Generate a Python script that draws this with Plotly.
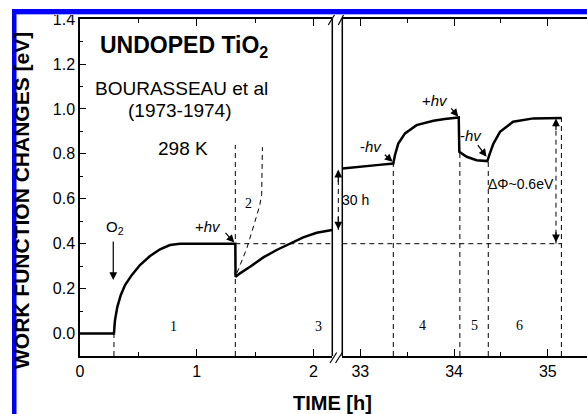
import plotly.graph_objects as go

FONT = "Liberation Sans, Arial, Helvetica, sans-serif"
SERIF = "Liberation Serif, Times New Roman, serif"

# ---------------- data ----------------
# left panel: 0 .. 2.16 h  (O2 adsorption, then illumination)
t_left = [0.0, 0.291, 0.295, 0.30, 0.32, 0.349, 0.386, 0.443, 0.514, 0.60, 0.686, 0.771,
          0.857, 1.0, 1.2, 1.331, 1.333, 1.371, 1.457, 1.571, 1.685, 1.80, 1.913, 2.028, 2.16]
wf_left = [0.0, 0.0, 0.03, 0.06, 0.119, 0.171, 0.216, 0.26, 0.305, 0.345, 0.375, 0.394,
           0.40, 0.40, 0.40, 0.40, 0.253, 0.268, 0.297, 0.339, 0.372, 0.401, 0.428, 0.449, 0.461]

# dashed curve "2"
t_curve2 = [1.345, 1.40, 1.43, 1.50, 1.54, 1.557, 1.562, 1.563]
wf_curve2 = [0.27, 0.34, 0.38, 0.50, 0.57, 0.62, 0.72, 0.83]

# right panel: after 30 h
t_right = [32.81, 33.0, 33.2, 33.352, 33.37, 33.405, 33.477, 33.60, 33.78, 33.90, 34.05,
           34.056, 34.135, 34.24, 34.355, 34.38, 34.42, 34.49, 34.63, 34.845, 35.0, 35.148]
wf_right = [0.735, 0.744, 0.751, 0.757, 0.795, 0.846, 0.891, 0.928, 0.947, 0.955, 0.962,
            0.809, 0.787, 0.772, 0.768, 0.80, 0.846, 0.898, 0.943, 0.958, 0.960, 0.960]

ref_level = 0.40
left_markers_t = [0.291, 1.331]
left_markers_top = [0.0, 0.84]
right_markers_t = [33.352, 34.062, 34.365, 35.145]
right_markers_top = [0.757, 0.81, 0.768, 0.96]

region_labels = ["1", "2", "3", "4", "5", "6"]
region_t = [0.80, 1.442, 2.042, 33.668, 34.223, 34.703]
region_wf = [0.03, 0.579, 0.033, 0.038, 0.038, 0.038]
region_axis = ["x", "x", "x", "x2", "x2", "x2"]

jump_before = 0.461
jump_after = 0.735
delta_phi_t = 35.087
delta_phi_low = 0.40
delta_phi_high = 0.96

Y_MIN, Y_MAX = -0.1, 1.4005
XL_RANGE = [0.0, 2.162]
XR_RANGE = [32.808, 35.418]

# ---------------- geometry helpers (pixel -> paper) ----------------
W, H = 587, 414
ML, MR, MT, MB = 80, 0, 19, 58
PW, PH = W - ML - MR, H - MT - MB


def px(x):
    return (x - ML) / PW


def py(y):
    return (H - MB - y) / PH


def vsegs(ts, tops, bottom=Y_MIN):
    xs, ys = [], []
    for t, top in zip(ts, tops):
        xs += [t, t, None]
        ys += [bottom, top, None]
    return xs, ys


fig = go.Figure()
solid = dict(color="black", width=2.5)
dashed = dict(color="black", width=1, dash="5px,4px")

fig.add_trace(go.Scatter(x=t_left, y=wf_left, mode="lines", line=solid, xaxis="x", yaxis="y"))
fig.add_trace(go.Scatter(x=t_right, y=wf_right, mode="lines", line=solid, xaxis="x2", yaxis="y"))
fig.add_trace(go.Scatter(x=t_curve2, y=wf_curve2, mode="lines", line=dashed, xaxis="x", yaxis="y"))

lx, ly = vsegs(left_markers_t, left_markers_top)
fig.add_trace(go.Scatter(x=lx, y=ly, mode="lines", line=dashed, xaxis="x", yaxis="y"))
rx, ry = vsegs(right_markers_t, right_markers_top)
fig.add_trace(go.Scatter(x=rx, y=ry, mode="lines", line=dashed, xaxis="x2", yaxis="y"))

# reference level 0.4
fig.add_trace(go.Scatter(x=[left_markers_t[1], XL_RANGE[1]], y=[ref_level, ref_level], mode="lines",
                         line=dashed, xaxis="x", yaxis="y"))
fig.add_trace(go.Scatter(x=[XR_RANGE[0], right_markers_t[-1]], y=[ref_level, ref_level], mode="lines",
                         line=dashed, xaxis="x2", yaxis="y"))
# delta phi arrow shaft
fig.add_trace(go.Scatter(x=[delta_phi_t, delta_phi_t], y=[delta_phi_low, delta_phi_high], mode="lines",
                         line=dashed, xaxis="x2", yaxis="y"))

annotations = []


def arrow(xref, tip, tail):
    annotations.append(dict(xref=xref, yref="y", axref=xref, ayref="y", x=tip[0], y=tip[1],
                            ax=tail[0], ay=tail[1], text="", showarrow=True, arrowhead=2,
                            arrowsize=1.3, arrowwidth=1.2, arrowcolor="black"))


def text(xref, x, y, s, size=15, family=FONT, **kw):
    annotations.append(dict(xref=xref, yref="y", x=x, y=y, text=s, showarrow=False,
                            font=dict(size=size, family=family, color="black"), **kw))


# arrows
arrow("x", (0.285, 0.238), (0.285, 0.416))
arrow("x", (1.322, 0.405), (1.235, 0.455))
arrow("x2", (33.345, 0.765), (33.245, 0.802))
arrow("x2", (34.045, 0.965), (33.957, 1.009))
arrow("x2", (34.347, 0.787), (34.241, 0.846))
arrow("x2", (delta_phi_t, delta_phi_high - 0.002), (delta_phi_t, delta_phi_high - 0.06))
arrow("x2", (delta_phi_t, delta_phi_low + 0.006), (delta_phi_t, delta_phi_low + 0.06))

# 30 h jump arrow (between the panels)
gap_x = px(338.3)
annotations.append(dict(xref="paper", yref="y", x=gap_x, y=jump_after - 0.005, ax=0, ay=14,
                        text="", showarrow=True, arrowhead=2, arrowsize=1.3, arrowwidth=1.2,
                        arrowcolor="black"))
annotations.append(dict(xref="paper", yref="y", x=gap_x, y=jump_before + 0.002, ax=0, ay=-14,
                        text="", showarrow=True, arrowhead=2, arrowsize=1.3, arrowwidth=1.2,
                        arrowcolor="black"))

# texts
text("x", 0.304, 0.47, "O<sub>2</sub>", size=15)
text("x", 1.093, 0.475, "+<i>hv</i>", size=15)
text("x2", 33.112, 0.831, "-<i>hv</i>", size=15)
text("x2", 33.80, 1.039, "+<i>hv</i>", size=15)
text("x2", 34.178, 0.883, "-<i>hv</i>", size=15)
text("x2", 34.709, 0.668, "ΔΦ~0.6eV", size=14)
text("paper", px(355.5), 0.594, "30 h", size=14)
for lab, t, v, ax_ in zip(region_labels, region_t, region_wf, region_axis):
    text(ax_, t, v, lab, size=14, family=SERIF)

# header texts (paper)
annotations.append(dict(xref="paper", yref="paper", x=px(98), y=py(47), xanchor="left", yanchor="middle",
                        text="<b>UNDOPED TiO<sub>2</sub></b>", showarrow=False,
                        font=dict(size=23, family=FONT, color="black")))
for s, cx, cy in [("BOURASSEAU et al", 181.5, 88.3), ("(1973-1974)", 180, 110), ("298 K", 182.5, 148.3)]:
    annotations.append(dict(xref="paper", yref="paper", x=px(cx), y=py(cy), xanchor="center",
                            yanchor="middle", text=s, showarrow=False,
                            font=dict(size=19, family=FONT, color="black")))

# axis titles
annotations.append(dict(xref="paper", yref="paper", x=px(21.5), y=py(200.5), xanchor="center",
                        yanchor="middle", textangle=-90, text="<b>WORK FUNCTION CHANGES [eV]</b>",
                        showarrow=False, font=dict(size=21, family=FONT, color="black")))
annotations.append(dict(xref="paper", yref="paper", x=px(332.5), y=py(403), xanchor="center",
                        yanchor="middle", text="<b>TIME [h]</b>", showarrow=False,
                        font=dict(size=20, family=FONT, color="black")))

# shapes: panel borders, break marks, blue frame
shapes = []
xl_end = px(332.3)
xr_start = px(342.3)
for xv in (xl_end, xr_start):
    shapes.append(dict(type="line", xref="paper", yref="paper", x0=xv, x1=xv, y0=0, y1=1,
                       line=dict(color="black", width=1.5)))
for (x0, y0, x1, y1) in [(328.3, 25, 335, 14), (338.3, 25, 344, 14),
                         (330, 363, 336.7, 352.5), (335.5, 363, 342.3, 352.5)]:
    shapes.append(dict(type="line", xref="paper", yref="paper", x0=px(x0), y0=py(y0), x1=px(x1), y1=py(y1),
                       line=dict(color="black", width=1.2)))
# jump arrow dashed shaft
shapes.append(dict(type="line", xref="paper", yref="y", x0=gap_x, x1=gap_x, y0=jump_before, y1=jump_after,
                   line=dict(color="black", width=1, dash="5px,4px")))
# blue frame
shapes.append(dict(type="rect", xref="paper", yref="paper", x0=px(12), x1=px(W + 2), y0=py(14), y1=py(9),
                   fillcolor="#0000ff", line=dict(width=0), layer="above"))
shapes.append(dict(type="rect", xref="paper", yref="paper", x0=px(12), x1=px(W + 2), y0=py(15), y1=py(14),
                   fillcolor="#aaaaff", line=dict(width=0), layer="above"))
shapes.append(dict(type="rect", xref="paper", yref="paper", x0=px(12), x1=px(16.5), y0=py(H + 2), y1=py(9),
                   fillcolor="#0000ff", line=dict(width=0), layer="above"))

tickfont = dict(size=16, family=FONT, color="black")
xcommon = dict(ticks="inside", ticklen=7, tickwidth=1.2, tickcolor="black", showline=True, linewidth=1.5,
               linecolor="black", mirror="ticks", showgrid=False, zeroline=False, tickfont=tickfont,
               anchor="y", dtick=1,
               minor=dict(dtick=0.5, ticks="inside", ticklen=4, tickwidth=1.2, tickcolor="black",
                          showgrid=False))

fig.update_layout(
    width=W, height=H, margin=dict(l=ML, r=MR, t=MT, b=MB),
    paper_bgcolor="white", plot_bgcolor="white", showlegend=False,
    xaxis=dict(domain=[0, xl_end], range=XL_RANGE, tick0=0, **xcommon),
    xaxis2=dict(domain=[xr_start, 1], range=XR_RANGE, tick0=33, **xcommon),
    yaxis=dict(domain=[0, 1], range=[Y_MIN, Y_MAX], tick0=0, dtick=0.2, tickformat=".1f",
               ticks="inside", ticklen=6, tickwidth=1.2, tickcolor="black", showline=True,
               linewidth=1.5, linecolor="black", mirror=False, showgrid=False, zeroline=False,
               tickfont=tickfont, anchor="x",
               minor=dict(dtick=0.1, tick0=0, ticks="inside", ticklen=3, tickwidth=1.2,
                          tickcolor="black", showgrid=False)),
    annotations=annotations, shapes=shapes,
)

fig.write_html("out.html")
